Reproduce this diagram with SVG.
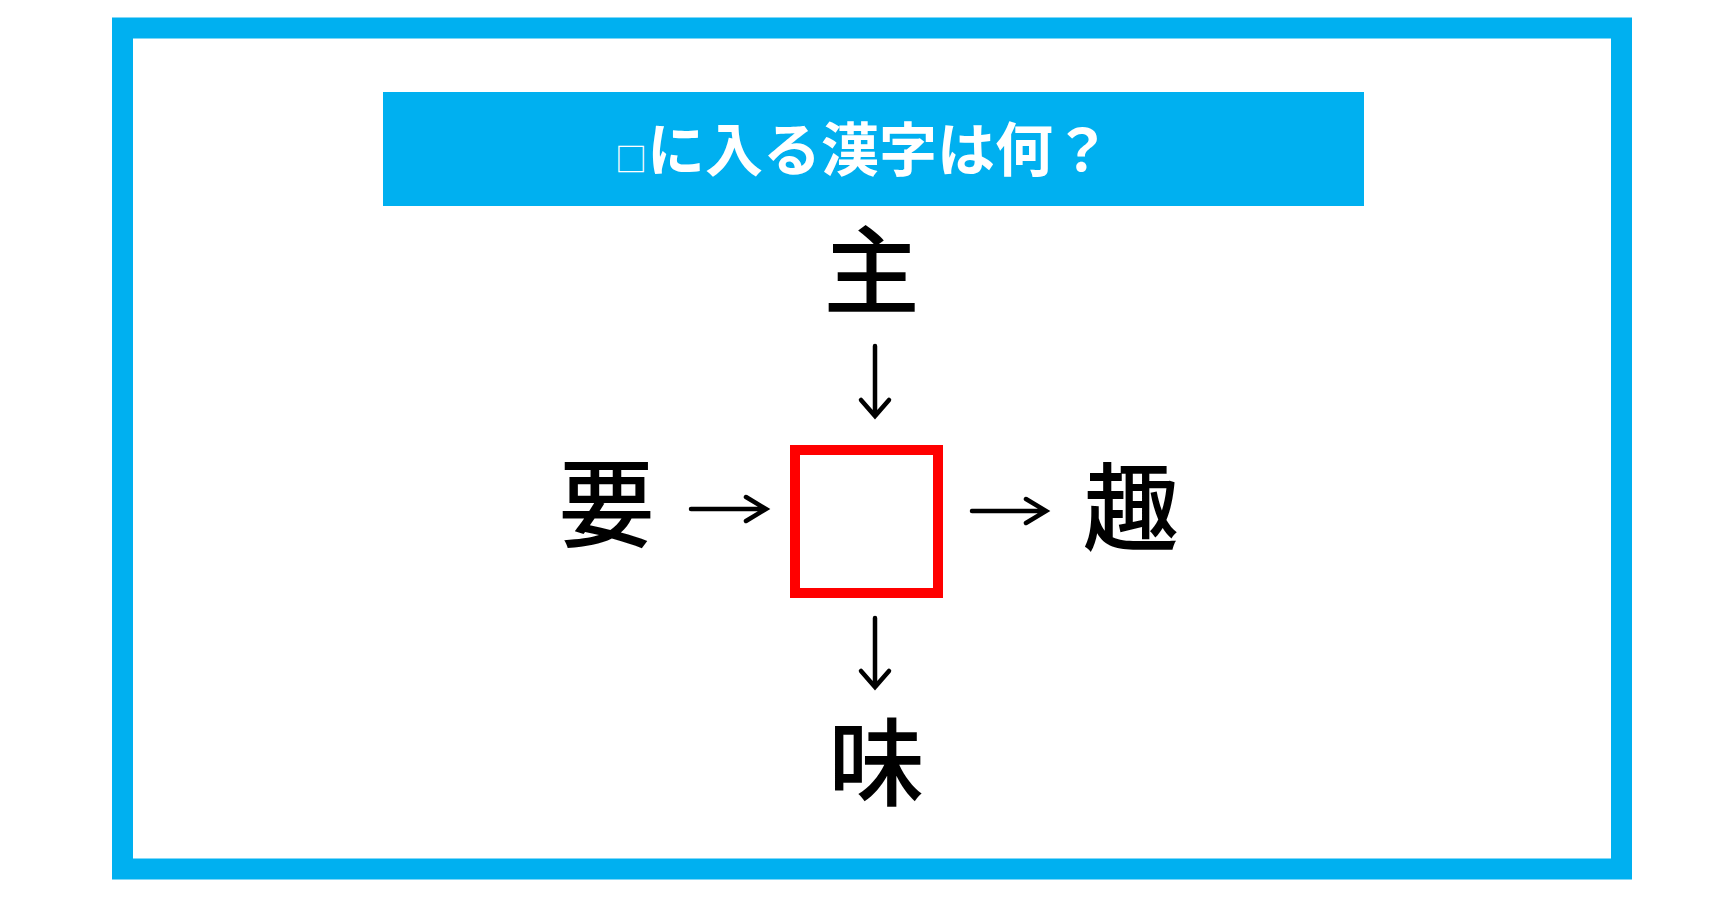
<svg xmlns="http://www.w3.org/2000/svg" width="1715" height="900" viewBox="0 0 1715 900">
<style>
.kanji{font-family:"Noto Sans CJK JP","Noto Sans CJK SC",sans-serif;font-size:96px;font-weight:500;fill:#000;text-anchor:middle}
.arr{fill:none;stroke:#000;stroke-width:4.5;stroke-linecap:round;stroke-linejoin:miter}
</style>
<rect x="0" y="0" width="1715" height="900" fill="#fff"/>
<g id="frame">
<rect x="122.5" y="28" width="1499" height="841" fill="none" stroke="#00B0F0" stroke-width="21"/>
</g>
<g id="title">
<rect x="383" y="92" width="981" height="114" fill="#00B0F0"/>
<text x="615" y="171" font-family="Noto Sans CJK JP, Noto Sans CJK SC, sans-serif" font-weight="bold" fill="#fff"><tspan font-size="32" font-weight="normal">□</tspan><tspan font-size="58">に入る漢字は何？</tspan></text>
</g>
<g id="node-top"><text class="kanji" x="871.5" y="306">主</text></g>
<g id="node-left"><text class="kanji" x="606.5" y="539">要</text></g>
<g id="node-right"><text class="kanji" x="1131" y="543">趣</text></g>
<g id="node-bottom"><text class="kanji" x="876.5" y="798">味</text></g>
<g id="node-center">
<rect x="795" y="450" width="143" height="143" fill="none" stroke="#FF0000" stroke-width="10"/>
</g>
<g id="connectors">
<path class="arr" d="M875 346 V416 M861 400 L875 416 L889 400"/>
<path class="arr" d="M691 509 H766 M746 497 L766 509 L746 521"/>
<path class="arr" d="M972 511 H1046 M1026 499 L1046 511 L1026 523"/>
<path class="arr" d="M875 618 V687 M861 671 L875 687 L889 671"/>
</g>
</svg>
